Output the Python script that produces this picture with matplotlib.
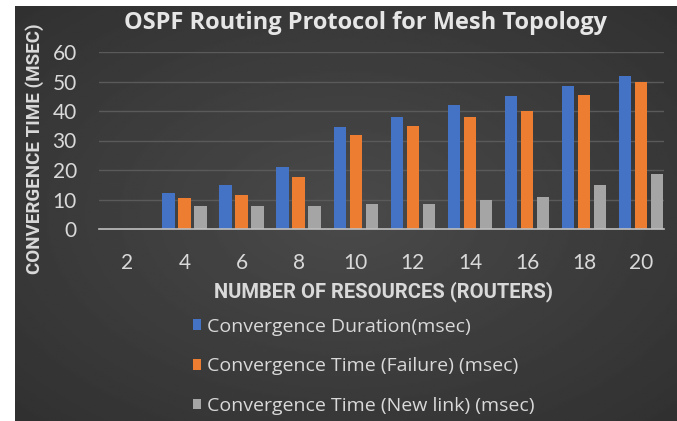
#!/usr/bin/env python3

import matplotlib.pyplot as plt
import numpy as np

#################################################
### Data
#################################################

routers = ['2', '4', '6', '8', '10', '12', '14', '16', '18', '20']
duration = [0, 12.3, 15, 21, 34.5, 38, 42, 45, 48.5, 52]
failure = [0, 10.5, 11.5, 17.5, 32, 35, 38, 40, 45.5, 50]
new_link = [0, 7.8, 7.8, 7.8, 8.5, 8.5, 10, 11, 15, 18.5]

series_labels = ['Convergence Duration(msec)',
                 'Convergence Time (Failure) (msec)',
                 'Convergence Time (New link) (msec)']
series_colors = ['#4472C4', '#ED7D31', '#A5A5A5']

#################################################
### Plot
#################################################

plt.rcParams['font.family'] = ['Lato', 'DejaVu Sans']
text_color = '#d9d9d9'
bold_font = ['Roboto', 'DejaVu Sans']

fig = plt.figure(figsize=(6.77, 4.21), dpi=100)
fig.patch.set_facecolor('white')

# dark chart background with a soft radial gradient
bg = fig.add_axes([15 / 677, 0, 1 - 15 / 677, 1 - 6 / 421], zorder=-10)
yy, xx = np.mgrid[-1:1:200j, -1:1:300j]
r = np.sqrt(xx ** 2 + yy ** 2)
bg.imshow(0.29 - 0.07 * r, cmap='gray', vmin=0, vmax=1, aspect='auto',
          extent=[0, 1, 0, 1])
bg.set_axis_off()

ax = fig.add_axes([99 / 677, 1 - 229 / 421, 565 / 677, 177 / 421])
ax.set_facecolor('none')

x = np.arange(len(routers))
width = 0.22
offset = 0.28
for k, (vals, lab, col) in enumerate(zip([duration, failure, new_link], series_labels, series_colors)):
    ax.bar(x + (k - 1) * offset, vals, width, color=col, label=lab, zorder=3)

ax.set_xlim(-0.5, len(routers) - 0.6)
ax.set_ylim(0, 60)
ax.set_yticks(range(0, 61, 10))
ax.set_xticks(x)
ax.set_xticklabels(routers)
ax.yaxis.grid(True, color='#5a5a5a', linewidth=1)
ax.set_axisbelow(True)
for side in ['top', 'right', 'left']:
    ax.spines[side].set_visible(False)
ax.spines['bottom'].set_color('#bfbfbf')
ax.spines['bottom'].set_linewidth(1.2)
ax.spines['bottom'].set_zorder(4)
ax.tick_params(length=0, colors=text_color, labelsize=15)
ax.tick_params(axis='x', pad=17)
ax.tick_params(axis='y', pad=16)

fig.text(366 / 677, 1 - 23 / 421, 'OSPF Routing Protocol for Mesh Topology',
         ha='center', va='center', fontsize=17, fontweight='bold', color='#e6e6e6',
         family=['Open Sans', 'DejaVu Sans'])
fig.text(383 / 677, 1 - 292 / 421, 'NUMBER OF RESOURCES (ROUTERS)',
         ha='center', va='center', fontsize=14.5, fontweight='bold', color=text_color,
         family=bold_font)
fig.text(35 / 677, 1 - 149 / 421, 'CONVERGENCE TIME (MSEC)', rotation=90,
         ha='center', va='center', fontsize=13.5, fontweight='bold', color=text_color,
         family=bold_font)

handles, labels = ax.get_legend_handles_labels()
leg = fig.legend(handles, labels, loc='upper left', bbox_to_anchor=(175 / 677, 1 - 300 / 421),
                 frameon=False, prop={'family': 'Open Sans', 'size': 14}, labelcolor=text_color,
                 handlelength=0.45, handleheight=0.45, handletextpad=0.3, labelspacing=1.12)

fig.savefig('out.png', dpi=100, facecolor=fig.get_facecolor())
